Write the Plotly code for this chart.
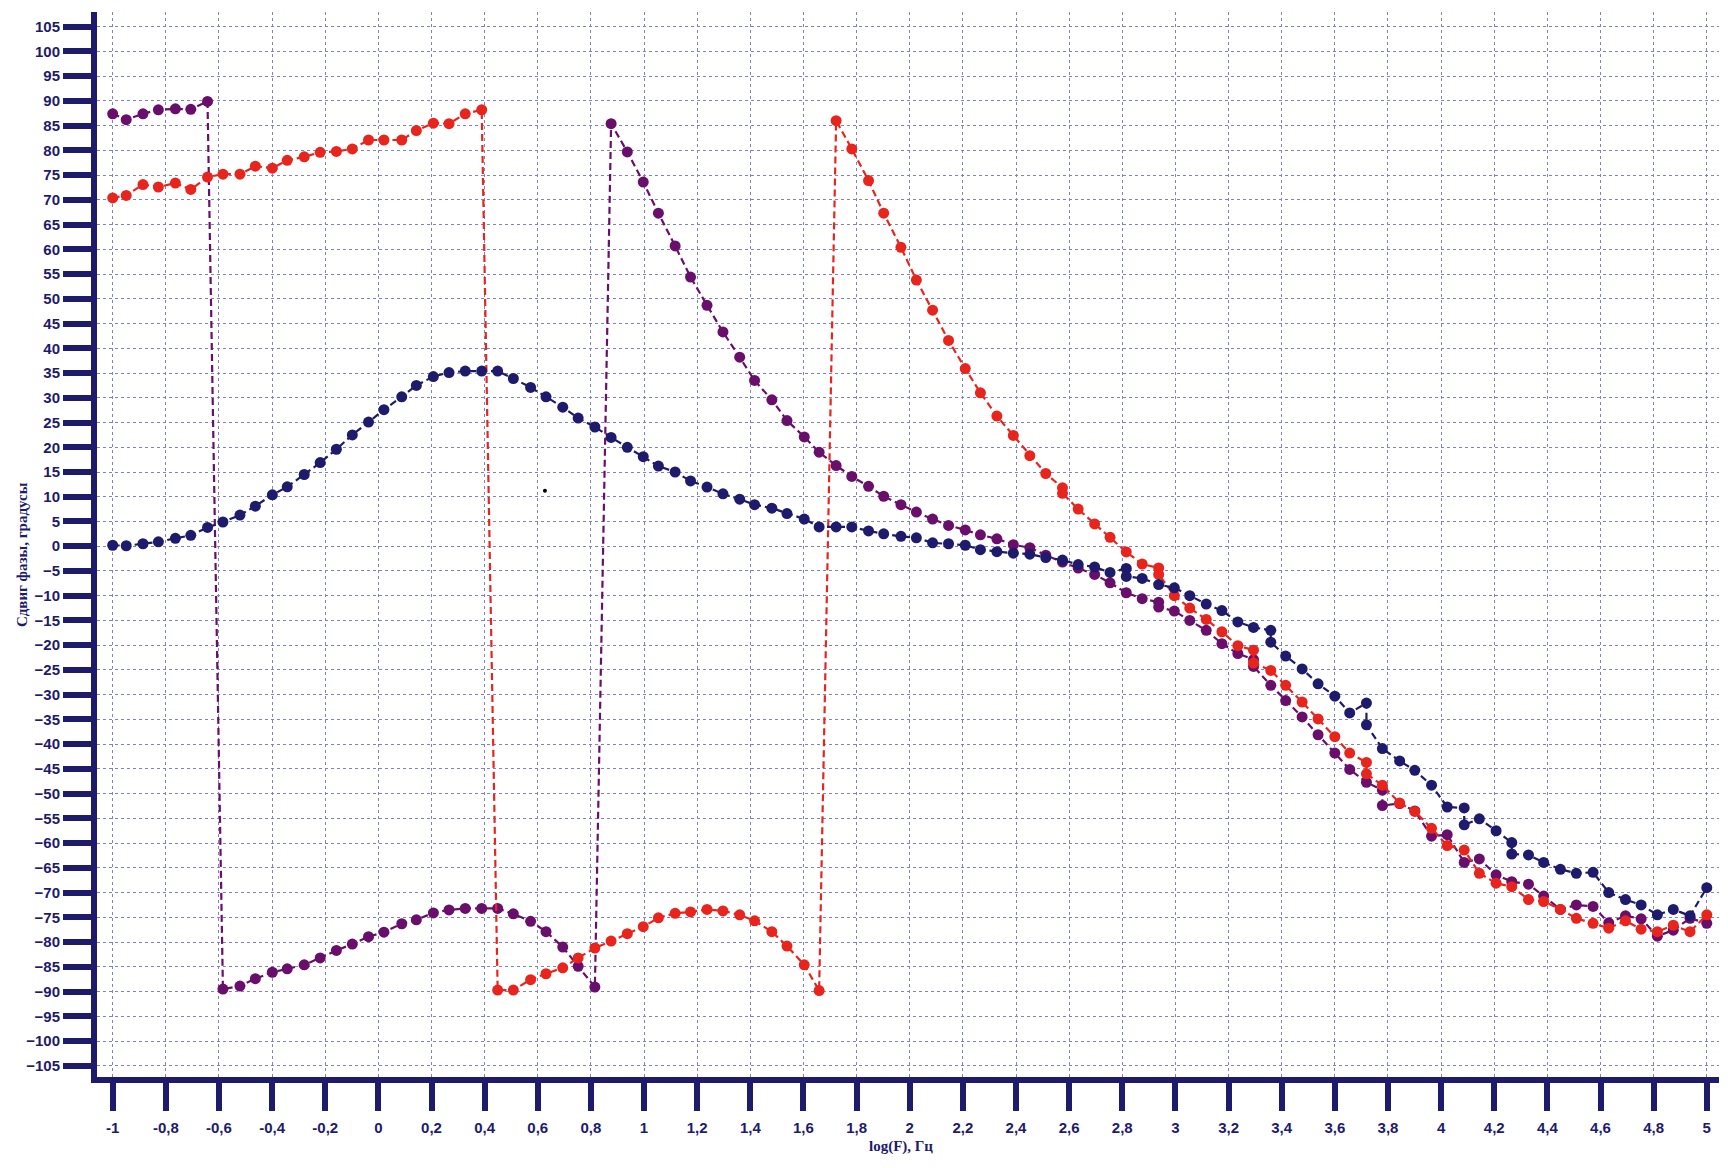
import plotly.graph_objects as go

NAVY = "#1e1a6c"
PURPLE = "#6a0e6c"
RED = "#e8251d"
GRID = "#7d84c6"

x_navy = [-1.0, -0.949, -0.886, -0.828, -0.764, -0.706, -0.643, -0.585, -0.521, -0.463,
          -0.399, -0.343, -0.279, -0.219, -0.158, -0.098, -0.037, 0.021, 0.088, 0.143,
          0.207, 0.266, 0.327, 0.389, 0.449, 0.508, 0.573, 0.631, 0.694, 0.752,
          0.815, 0.876, 0.937, 0.997, 1.054, 1.117, 1.175, 1.237, 1.297, 1.36,
          1.416, 1.481, 1.538, 1.603, 1.659, 1.723, 1.782, 1.845, 1.902, 1.967,
          2.025, 2.086, 2.146, 2.209, 2.266, 2.328, 2.39, 2.452, 2.512, 2.575,
          2.634, 2.696, 2.754, 2.815, 2.815, 2.875, 2.937, 2.996, 3.054, 3.116,
          3.175, 3.235, 3.294, 3.359, 3.359, 3.415, 3.477, 3.537, 3.6, 3.656,
          3.719, 3.719, 3.779, 3.844, 3.901, 3.964, 4.023, 4.087, 4.087, 4.144,
          4.207, 4.266, 4.266, 4.329, 4.386, 4.449, 4.509, 4.572, 4.631, 4.694,
          4.753, 4.814, 4.874, 4.937, 5.0]
y_navy = [0.2, 0.1, 0.5, 0.9, 1.6, 2.2, 3.8, 4.9, 6.3, 8.1,
          10.4, 12.0, 14.5, 16.9, 19.6, 22.5, 25.1, 27.6, 30.2, 32.5,
          34.3, 35.1, 35.4, 35.4, 35.4, 33.9, 32.1, 30.2, 28.1, 25.9,
          24.1, 22.0, 20.0, 18.1, 16.2, 15.0, 13.2, 11.95, 10.6, 9.5,
          8.4, 7.7, 6.6, 5.5, 3.9, 3.9, 3.9, 3.1, 2.5, 2.0,
          1.7, 0.7, 0.5, 0.2, -0.7, -1.1, -1.4, -1.6, -2.3, -2.8,
          -3.7, -4.2, -5.3, -4.5, -6.1, -6.5, -7.75, -8.4, -10.0, -11.7,
          -13.0, -15.3, -16.4, -17.0, -19.4, -22.2, -24.8, -27.8, -30.3, -33.7,
          -31.7, -36.1, -40.9, -43.4, -45.3, -48.3, -52.7, -52.9, -56.3, -55.1,
          -57.5, -59.9, -62.2, -62.4, -63.9, -65.3, -66.1, -65.9, -70.0, -71.4,
          -72.5, -74.5, -73.4, -74.7, -69.0]

x_purple = [-1.0, -0.949, -0.886, -0.828, -0.764, -0.706, -0.643,
            -0.585, -0.521, -0.463, -0.399, -0.343, -0.279, -0.219, -0.158, -0.098, -0.037,
            0.021, 0.088, 0.143, 0.207, 0.266, 0.327, 0.389, 0.449, 0.508, 0.573,
            0.631, 0.694, 0.752, 0.815,
            0.876, 0.937, 0.997, 1.054, 1.117, 1.175, 1.237, 1.297, 1.36, 1.416,
            1.481, 1.538, 1.603, 1.659, 1.723, 1.782, 1.845, 1.902, 1.967, 2.025,
            2.086, 2.146, 2.209, 2.266, 2.328, 2.39, 2.452,
            2.512, 2.575, 2.634, 2.696, 2.754, 2.815, 2.875, 2.937, 2.937, 2.996,
            3.054, 3.116, 3.175, 3.235, 3.294, 3.294, 3.359, 3.415, 3.477, 3.537,
            3.6, 3.656, 3.719, 3.779, 3.779, 3.844, 3.901, 3.964, 4.023, 4.087,
            4.144, 4.207, 4.266, 4.329, 4.386, 4.449, 4.509, 4.572, 4.631, 4.694,
            4.753, 4.814, 4.874, 4.937, 5.0]
y_purple = [87.4, 86.2, 87.4, 88.2, 88.4, 88.3, 89.9,
            -89.5, -88.9, -87.4, -86.1, -85.4, -84.6, -83.2, -81.7, -80.4, -78.9,
            -78.0, -76.3, -75.5, -74.1, -73.5, -73.2, -73.2, -73.2, -74.3, -75.8,
            -77.9, -81.0, -84.9, -89.1,
            85.4, 79.7, 73.6, 67.3, 60.7, 54.4, 48.7, 43.3, 38.2, 33.5,
            29.6, 25.4, 22.1, 19.0, 16.3, 14.1, 12.1, 10.1, 8.4, 6.9,
            5.5, 4.2, 3.3, 2.3, 1.5, 0.3, -0.3,
            -1.8, -3.2, -4.4, -5.7, -7.4, -9.4, -10.6, -11.3, -12.3, -13.1,
            -15.0, -17.0, -19.7, -21.7, -22.9, -24.3, -28.1, -31.2, -34.5, -38.1,
            -41.8, -45.1, -47.7, -49.3, -52.4, -52.0, -53.5, -58.6, -58.3, -63.9,
            -63.2, -66.4, -67.8, -68.3, -70.7, -73.4, -72.5, -72.8, -76.1, -74.7,
            -75.3, -78.8, -77.6, -75.2, -76.2]

x_red = [-1.0, -0.949, -0.886, -0.828, -0.764, -0.706, -0.643, -0.585, -0.521, -0.463,
         -0.399, -0.343, -0.279, -0.219, -0.158, -0.098, -0.037, 0.021, 0.088, 0.143,
         0.207, 0.266, 0.327, 0.389,
         0.449, 0.508, 0.573, 0.631, 0.694, 0.752, 0.815, 0.876, 0.937, 0.997,
         1.054, 1.117, 1.175, 1.237, 1.297, 1.36, 1.416, 1.481, 1.538, 1.603, 1.659,
         1.723, 1.782, 1.845, 1.902, 1.967, 2.025, 2.086, 2.146, 2.209, 2.266,
         2.328, 2.39, 2.452, 2.512, 2.575, 2.575, 2.634,
         2.696, 2.754, 2.815, 2.875, 2.937, 2.937, 2.996, 3.054, 3.116, 3.175,
         3.235, 3.294, 3.294, 3.359, 3.415, 3.477, 3.537, 3.6, 3.656, 3.719, 3.719, 3.779,
         3.844, 3.901, 3.964, 4.023, 4.087, 4.144, 4.207, 4.266, 4.329, 4.386,
         4.449, 4.509, 4.572, 4.631, 4.694, 4.753, 4.814, 4.874, 4.937, 5.0]
y_red = [70.4, 70.9, 73.1, 72.6, 73.4, 72.1, 74.6, 75.2, 75.2, 76.8,
         76.4, 78.0, 78.7, 79.6, 79.8, 80.3, 82.1, 82.1, 82.1, 84.0,
         85.5, 85.4, 87.4, 88.2,
         -89.7, -89.7, -87.6, -86.4, -85.2, -83.2, -81.2, -79.8, -78.3, -76.9,
         -75.1, -74.2, -73.9, -73.4, -73.7, -74.5, -75.7, -77.9, -80.8, -84.6, -89.8,
         86.0, 80.3, 73.9, 67.3, 60.4, 53.8, 47.7, 41.6, 35.9, 31.0,
         26.3, 22.4, 18.3, 14.7, 11.8, 10.7, 7.5,
         4.5, 1.8, -1.15, -3.6, -4.4, -5.7, -10.0, -12.5, -14.8, -17.3,
         -20.1, -21.0, -23.6, -25.1, -28.1, -31.5, -34.9, -38.5, -41.8, -43.7, -46.0, -48.3,
         -51.9, -53.6, -57.0, -60.5, -61.4, -66.1, -68.1, -68.8, -71.4, -71.8,
         -73.4, -75.2, -76.2, -77.2, -75.7, -77.4, -77.9, -76.6, -77.9, -74.5]

x_stray = [0.627]
y_stray = [11.2]

x_ticks = [round(-1 + 0.2 * i, 1) for i in range(31)]
x_ticktext = [("%g" % v).replace(".", ",") for v in x_ticks]
y_ticks = list(range(-105, 106, 5))

x_title = "log(F), Гц"
y_title = "Сдвиг фазы, градусы"

fig = go.Figure()


def add_series(xs, ys, color):
    fig.add_trace(go.Scatter(
        x=xs, y=ys, mode="lines+markers",
        line=dict(color=color, width=2.2, dash="7px,4px"),
        marker=dict(color=color, size=11, symbol="circle"),
        showlegend=False, hoverinfo="x+y"))


add_series(x_purple, y_purple, PURPLE)
add_series(x_red, y_red, RED)
add_series(x_navy, y_navy, NAVY)
fig.add_trace(go.Scatter(x=x_stray, y=y_stray, mode="markers",
                         marker=dict(color="black", size=4), showlegend=False))

tick_font = dict(family="Liberation Sans", size=15, color=NAVY, weight="bold")
title_font = dict(family="Liberation Serif", size=15, color=NAVY, weight="bold")

# the page body adds an 8px offset, so the figure is 16px smaller than the window
fig.update_layout(
    width=1712, height=1152,
    margin=dict(l=89, r=1, t=4, b=83),
    paper_bgcolor="white", plot_bgcolor="white",
    xaxis=dict(
        range=[-1.059, 5.046], tickmode="array", tickvals=x_ticks, ticktext=x_ticktext,
        showgrid=True, gridcolor=GRID, gridwidth=1, griddash="dot",
        showline=True, linecolor=NAVY, linewidth=6,
        ticks="outside", ticklen=28, tickwidth=6, tickcolor=NAVY,
        tickfont=tick_font, zeroline=False, automargin=False, ticklabelstandoff=4,
    ),
    yaxis=dict(
        range=[-107.27, 107.97], tickmode="array", tickvals=y_ticks,
        showgrid=True, gridcolor=GRID, gridwidth=1, griddash="dot",
        showline=True, linecolor=NAVY, linewidth=6,
        ticks="outside", ticklen=28, tickwidth=6, tickcolor=NAVY,
        tickfont=tick_font, zeroline=False, automargin=False,
    ),
    annotations=[
        dict(text=x_title, xref="paper", yref="paper", x=0.4957, y=-0.0648,
             xanchor="center", yanchor="middle", showarrow=False, font=title_font),
        dict(text=y_title, xref="paper", yref="paper", x=-0.0462, y=0.4901,
             xanchor="center", yanchor="middle", textangle=-90, showarrow=False,
             font=title_font),
    ],
)

fig.write_html("out.html")
